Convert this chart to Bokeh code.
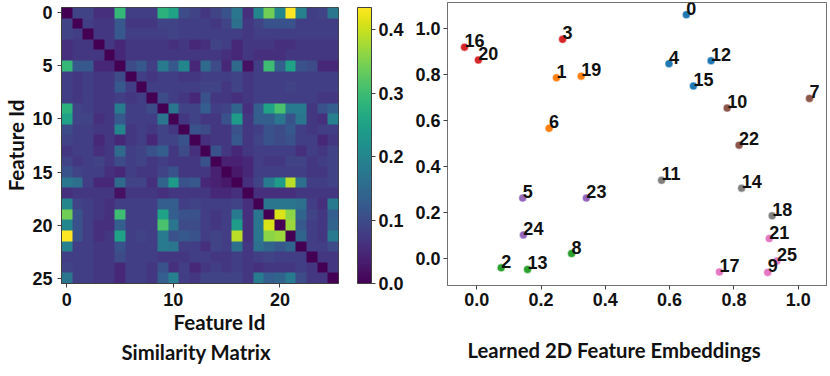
import numpy as np
from bokeh.plotting import figure
from bokeh.layouts import row
from bokeh.models import LinearColorMapper, ColorBar, FixedTicker, Title, ColumnDataSource, NumeralTickFormatter
from bokeh.palettes import Viridis256
from bokeh.core.properties import value
from bokeh.embed import file_html
from bokeh.resources import INLINE

# similarity, upper triangle per row (values for column j > row i)
upper = [
 [.09,.09,.06,.06,.29,.08,.08,.08,.28,.25,.10,.09,.07,.09,.11,.17,.06,.20,.34,.20,.44,.19,.08,.09,.17],
 [.08,.07,.07,.12,.07,.07,.07,.09,.09,.08,.08,.08,.07,.09,.16,.07,.09,.11,.11,.11,.08,.08,.08,.08],
 [.07,.07,.12,.08,.08,.08,.08,.09,.08,.08,.08,.08,.08,.08,.07,.08,.08,.08,.08,.08,.08,.08,.08],
 [.07,.05,.07,.07,.07,.07,.06,.07,.05,.06,.09,.08,.05,.07,.07,.07,.06,.06,.07,.07,.07,.07],
 [.05,.07,.07,.07,.07,.07,.07,.07,.07,.07,.06,.05,.07,.06,.06,.06,.07,.07,.07,.07,.07],
 [.10,.12,.08,.18,.12,.20,.05,.15,.10,.05,.15,.02,.08,.30,.13,.25,.11,.10,.05,.05],
 [.08,.07,.08,.08,.07,.07,.08,.08,.08,.09,.07,.08,.08,.08,.08,.08,.08,.08,.08],
 [.08,.08,.08,.08,.08,.09,.09,.07,.09,.07,.08,.08,.08,.09,.08,.08,.08,.08],
 [.10,.08,.07,.05,.11,.07,.07,.06,.07,.08,.08,.08,.08,.08,.08,.07,.07],
 [.17,.09,.09,.13,.08,.09,.14,.06,.13,.25,.31,.18,.18,.07,.11,.13],
 [.07,.09,.07,.07,.11,.24,.07,.13,.13,.17,.11,.17,.07,.06,.19],
 [.11,.10,.07,.07,.11,.07,.08,.11,.10,.12,.08,.07,.08,.08],
 [.06,.07,.07,.12,.07,.09,.11,.10,.11,.08,.08,.05,.07],
 [.11,.07,.05,.07,.08,.08,.08,.08,.06,.08,.07,.09],
 [.04,.04,.05,.08,.07,.07,.09,.09,.07,.08,.09],
 [.03,.05,.08,.08,.08,.08,.08,.07,.07,.09],
 [.06,.09,.18,.24,.39,.16,.08,.08,.09],
 [.06,.06,.06,.06,.07,.07,.07,.07],
 [.17,.17,.17,.16,.08,.06,.18],
 [.41,.36,.14,.09,.07,.13],
 [.37,.12,.08,.07,.14],
 [.14,.08,.07,.18],
 [.08,.08,.10],
 [.07,.07],
 [.07],
]

feature_ids = list(range(26))
emb_x = [.652,.248,.076,.267,.598,.143,.225,1.035,.295,.905,.779,.575,.729,.158,.824,.674,-.038,.755,.919,.325,.005,.910,.816,.341,.145,.934]
emb_y = [1.061,.787,-.039,.954,.848,.264,.567,.697,.023,-.059,.655,.341,.861,-.046,.307,.751,.920,-.057,.187,.794,.864,.088,.494,.264,.104,-.009]
clusters = [0,1,2,3,0,4,1,5,2,6,5,7,0,2,7,0,3,6,7,1,3,6,5,4,4,6]
tab10 = ["#1f77b4","#ff7f0e","#2ca02c","#d62728","#9467bd","#8c564b","#e377c2","#7f7f7f"]

heat_ticks_x = [0,10,20]
heat_ticks_y = [0,5,10,15,20,25]
cbar_ticks = [0.0,0.1,0.2,0.3,0.4]
emb_ticks_x = [0.0,0.2,0.4,0.6,0.8,1.0]
emb_ticks_y = [0.0,0.2,0.4,0.6,0.8,1.0]

M = np.zeros((26,26))
for i,r in enumerate(upper):
    for k,v in enumerate(r):
        M[i,i+1+k] = v
        M[i+1+k,i] = v

FONT = "Liberation Sans"
CAP = "Lato"
TICK = "18px"
EDGE = "#404040"

cmap = LinearColorMapper(palette=Viridis256, low=0, high=0.435)

p1 = figure(width=410, height=376, frame_width=277, frame_height=276,
            x_range=(-.5,25.5), y_range=(25.5,-.5),
            output_backend="svg", toolbar_location=None, tools="",
            min_border_left=61, min_border_right=72, min_border_top=7, min_border_bottom=93)
p1.image(image=[M], x=-.5, y=-.5, dw=26, dh=26, color_mapper=cmap)
p1.grid.visible = False
p1.xaxis.ticker = FixedTicker(ticks=heat_ticks_x)
p1.yaxis.ticker = FixedTicker(ticks=heat_ticks_y)
p1.yaxis.axis_label = "Feature Id"
cb = ColorBar(color_mapper=cmap, width=14, height=276, padding=0, margin=0, location=(19,0),
              ticker=FixedTicker(ticks=cbar_ticks), major_tick_in=0, major_tick_out=4,
              major_label_text_font=FONT, major_label_text_font_size=TICK,
              major_label_text_font_style="bold", major_label_text_color="#111111",
              major_tick_line_color=EDGE, border_line_color=None,
              minor_tick_line_color=None, bar_line_color=EDGE, label_standoff=3,
              formatter=NumeralTickFormatter(format="0.0"))
p1.add_layout(cb, "right")
p1.add_layout(Title(text="Feature Id", align="left", offset=112, standoff=-2, text_font=CAP,
                    text_font_size="20.5px", text_font_style="bold", text_color="#111111"), "below")
p1.add_layout(Title(text="Similarity Matrix", align="left", offset=60, standoff=10, text_font=CAP,
                    text_font_size="20.3px", text_font_style="bold", text_color="#111111"), "below")

p3 = figure(width=420, height=376, frame_width=379, frame_height=283,
            x_range=(-.091,1.088), y_range=(-.116,1.114),
            output_backend="svg", toolbar_location=None, tools="",
            min_border_left=37, min_border_right=4, min_border_top=7, min_border_bottom=91,
            margin=(-5,0,0,0))
p3.grid.visible = False
p3.xaxis.ticker = FixedTicker(ticks=emb_ticks_x)
p3.yaxis.ticker = FixedTicker(ticks=emb_ticks_y)
p3.xaxis.formatter = NumeralTickFormatter(format="0.0")
p3.yaxis.formatter = NumeralTickFormatter(format="0.0")
src = ColumnDataSource(dict(x=emb_x, y=emb_y, t=[str(i) for i in feature_ids], c=[tab10[c] for c in clusters]))
p3.scatter("x","y",source=src,size=8,fill_color="c",line_color="white",line_width=0.5)
p3.text("x","y",text="t",source=src,text_font=value(FONT),text_font_size="18px",text_font_style="bold",
        text_color="#111111",text_baseline="bottom",text_align="left",y_offset=0)
p3.add_layout(Title(text="Learned 2D Feature Embeddings", align="left", offset=20, standoff=54, text_font=CAP,
                    text_font_size="20.3px", text_font_style="bold", text_color="#111111"), "below")

for p in (p1,p3):
    p.outline_line_color = EDGE if p is p1 else "#707070"
    p.outline_line_width = 1
    for ax in (p.xaxis[0], p.yaxis[0]):
        ax.major_label_text_font = FONT
        ax.major_label_text_font_size = TICK
        ax.major_label_text_font_style = "bold"
        ax.major_label_text_color = "#111111"
        ax.axis_line_color = EDGE if p is p1 else "#707070"
        ax.major_tick_line_color = EDGE
        ax.major_tick_in = 0
        ax.major_tick_out = 4
        ax.minor_tick_line_color = None
        ax.major_label_standoff = 5 if p is p1 else 3
        ax.axis_label_text_font = CAP
        ax.axis_label_text_font_size = "20.5px"
        ax.axis_label_text_font_style = "bold"
        ax.axis_label_text_color = "#111111"
        ax.axis_label_standoff = 1

page = row(p1, p3, spacing=0, margin=(0,0,0,0))
open("out.html","w").write(file_html(page, INLINE))
